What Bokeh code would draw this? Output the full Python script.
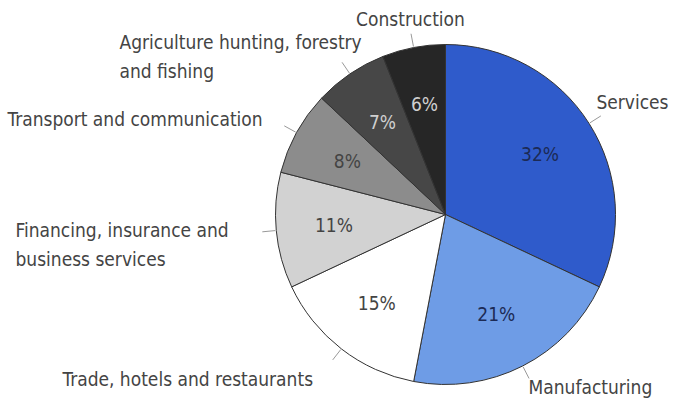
import math
from bokeh.plotting import figure
from bokeh.models import Range1d, ColumnDataSource
from bokeh.core.properties import value
from bokeh.embed import file_html
from bokeh.resources import INLINE

# ---- data ----
sectors = ["Services", "Manufacturing", "Trade, hotels and restaurants",
           "Financing, insurance and\nbusiness services", "Transport and communication",
           "Agriculture hunting, forestry\nand fishing", "Construction"]
shares = [32, 21, 15, 11, 8, 7, 6]
pct_labels = ["32%", "21%", "15%", "11%", "8%", "7%", "6%"]

# ---- styles ----
colors = ["#2f5bcb", "#6e9ce6", "#ffffff", "#d2d2d2", "#8c8c8c", "#474747", "#262626"]
pct_colors = ["#1c2a55", "#1c2a55", "#444444", "#444444", "#444444", "#d0d0d0", "#d0d0d0"]
FONT = "'DejaVu Sans Condensed', 'Roboto', sans-serif"
W, H = 670, 399
CX, CY, R = 445, 214, 170  # image-pixel layout

def py(y):  # image pixel y -> data y
    return H - y

p = figure(width=W, height=H, x_range=Range1d(0, W), y_range=Range1d(0, H),
           output_backend="svg", toolbar_location=None, min_border=0)
p.axis.visible = False
p.grid.visible = False
p.outline_line_color = None
p.background_fill_color = "white"

total = sum(shares)
starts, ends, mids = [], [], []
cum = 0
for s in shares:
    a0 = math.pi / 2 - 2 * math.pi * cum / total
    cum += s
    a1 = math.pi / 2 - 2 * math.pi * cum / total
    starts.append(a0); ends.append(a1); mids.append((a0 + a1) / 2)

src = ColumnDataSource(dict(x=[CX] * len(shares), y=[py(CY)] * len(shares),
                            start=starts, end=ends, color=colors))
p.wedge(x="x", y="y", radius=R, start_angle="start", end_angle="end", direction="clock",
        fill_color="color", line_color="#333333", line_width=1, source=src)

# percent labels
rl = 112
p.text(x=[CX + rl * math.cos(m) for m in mids], y=[py(CY) + rl * math.sin(m) for m in mids],
       text=pct_labels, text_color=pct_colors, text_font=value(FONT), text_font_size="19px",
       text_align="center", text_baseline="middle")

# leader lines
for m in mids:
    p.line([CX + (R + 1) * math.cos(m), CX + (R + 14) * math.cos(m)],
           [py(CY) + (R + 1) * math.sin(m), py(CY) + (R + 14) * math.sin(m)],
           line_color="#999999", line_width=1)

# category labels: (x, first-line y, align)
label_pos = [(668, 101, "right"), (528, 386, "left"), (62, 378, "left"),
             (15, 229, "left"), (7, 118, "left"), (119, 41, "left"), (410, 18, "center")]
lx, ly, lt, la = [], [], [], []
for name, (x0, y0, al) in zip(sectors, label_pos):
    for i, line in enumerate(name.split("\n")):
        lx.append(x0); ly.append(py(y0 + 29 * i)); lt.append(line); la.append(al)
p.text(x=lx, y=ly, text=lt, text_align=la, text_baseline="middle", text_color="#444444",
       text_font=value(FONT), text_font_size="19px")

open("out.html", "w").write(file_html(p, INLINE))
